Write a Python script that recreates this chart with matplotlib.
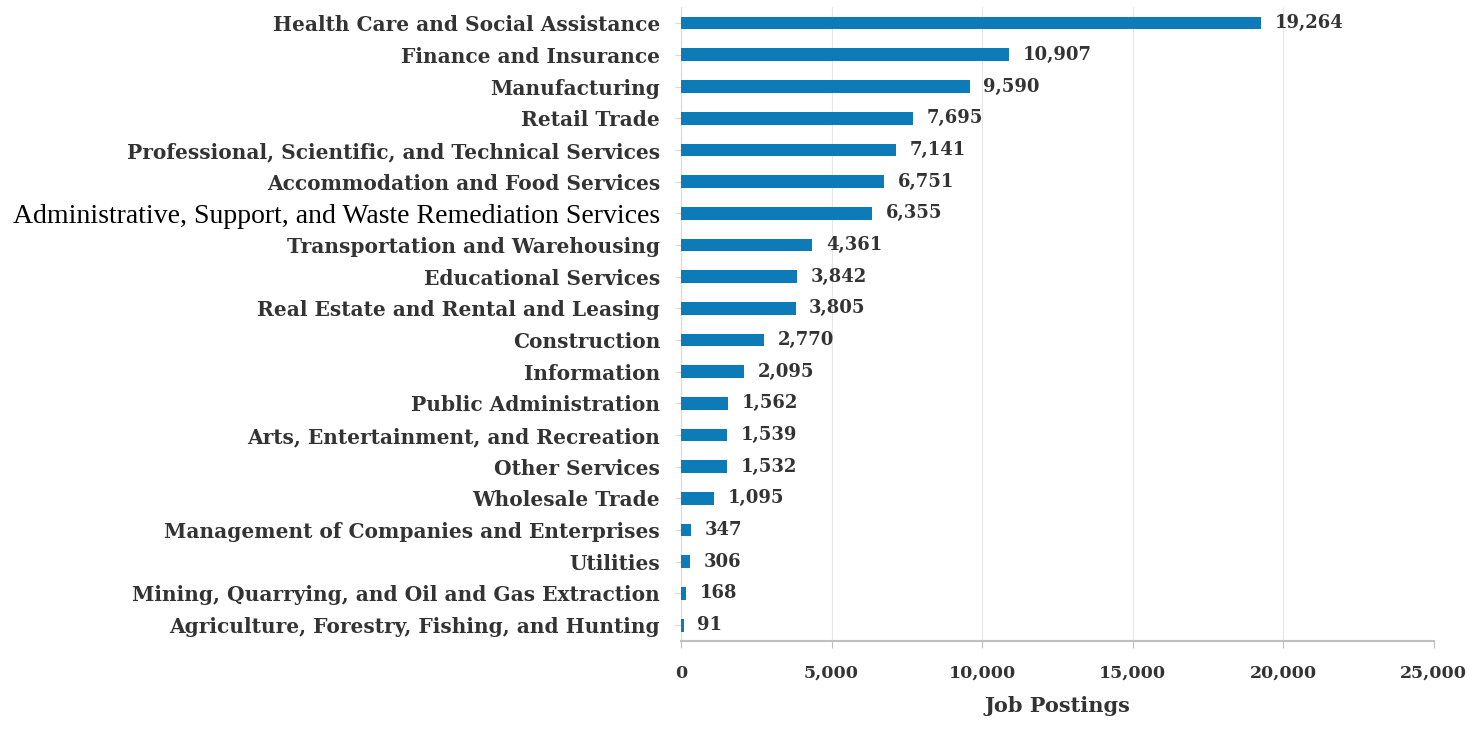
import matplotlib
matplotlib.use("Agg")
import matplotlib.pyplot as plt
from matplotlib.ticker import FuncFormatter

categories = [
    "Health Care and Social Assistance",
    "Finance and Insurance",
    "Manufacturing",
    "Retail Trade",
    "Professional, Scientific, and Technical Services",
    "Accommodation and Food Services",
    "Administrative, Support, and Waste Remediation Services",
    "Transportation and Warehousing",
    "Educational Services",
    "Real Estate and Rental and Leasing",
    "Construction",
    "Information",
    "Public Administration",
    "Arts, Entertainment, and Recreation",
    "Other Services",
    "Wholesale Trade",
    "Management of Companies and Enterprises",
    "Utilities",
    "Mining, Quarrying, and Oil and Gas Extraction",
    "Agriculture, Forestry, Fishing, and Hunting",
]
values = [19264, 10907, 9590, 7695, 7141, 6751, 6355, 4361, 3842, 3805,
          2770, 2095, 1562, 1539, 1532, 1095, 347, 306, 168, 91]
x_ticks = [0, 5000, 10000, 15000, 20000, 25000]
x_label = "Job Postings"

plt.rcParams['font.family'] = ['DejaVu Serif']

fig = plt.figure(figsize=(14.69, 7.29), dpi=100)
ax = fig.add_axes([0.4636, 0.1207, 0.976 - 0.4636, 0.990 - 0.1207])

n = len(categories)
ypos = list(range(n))[::-1]
bar_color = '#0C7BB8'
txt_color = '#333333'
ax.barh(ypos, values, height=0.4, color=bar_color, zorder=3)

for y, v in zip(ypos, values):
    ax.text(v + 450, y, f"{v:,}", va='center', ha='left', fontsize=13,
            fontweight='bold', color=txt_color)

ax.set_ylim(-0.5, n - 0.5)
ax.set_xlim(0, 25000)
ax.set_yticks(ypos)
ax.set_yticklabels(categories)
for lbl in ax.get_yticklabels():
    lbl.set_fontweight('bold')
    lbl.set_fontsize(14.5)
    lbl.set_color(txt_color)
    if lbl.get_text().startswith("Administrative"):
        lbl.set_family('Liberation Serif')
        lbl.set_fontweight('normal')
        lbl.set_fontsize(20)
        lbl.set_color('black')

ax.set_xticks(x_ticks)
ax.xaxis.set_major_formatter(FuncFormatter(lambda x, p: f"{int(x):,}"))
for lbl in ax.get_xticklabels():
    lbl.set_fontweight('bold')
    lbl.set_fontsize(12.5)
    lbl.set_color(txt_color)
ax.set_xlabel(x_label, fontsize=15, fontweight='bold', color=txt_color, labelpad=10)

ax.grid(axis='x', color='#e6e6e6', linewidth=0.8, zorder=0)
for s in ['top', 'right']:
    ax.spines[s].set_visible(False)
ax.spines['bottom'].set_color('#bfbfbf')
ax.spines['bottom'].set_linewidth(1.5)
ax.spines['left'].set_color('#d9d9d9')
ax.tick_params(axis='x', length=5, color='#bfbfbf', pad=12)
ax.tick_params(axis='y', length=4, color='#d9d9d9', pad=11)

fig.savefig("out.png", dpi=100)
